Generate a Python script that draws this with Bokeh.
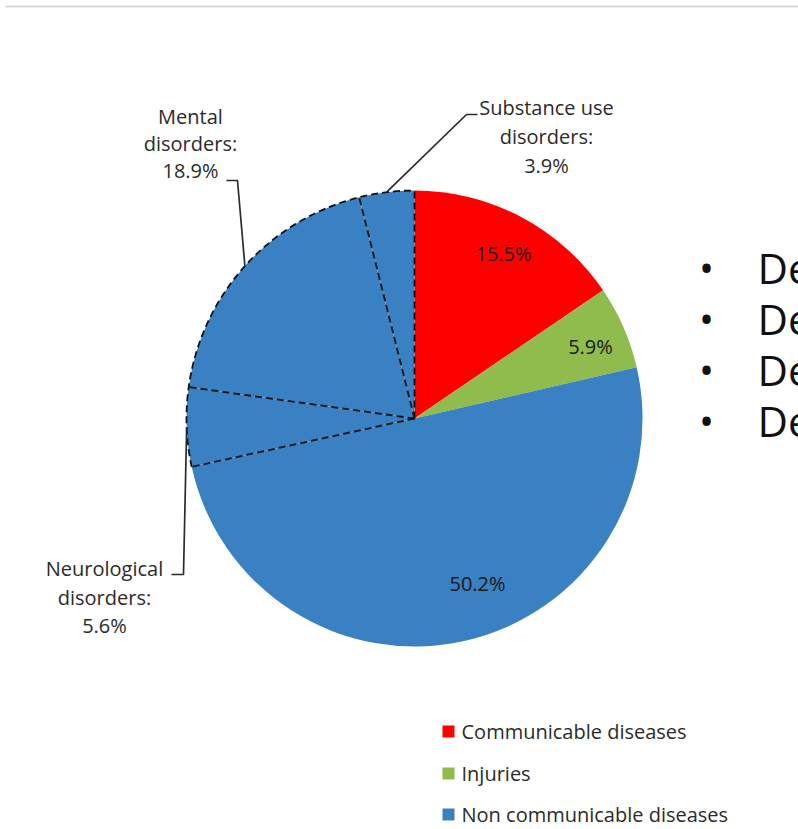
import math
from bokeh.plotting import figure
from bokeh.models import Range1d
from bokeh.core.properties import value
from bokeh.embed import file_html
from bokeh.resources import INLINE

# ---- data -------------------------------------------------------------
categories = ["Communicable diseases", "Injuries", "Non communicable diseases",
              "Neurological disorders", "Mental disorders", "Substance use disorders"]
shares = [15.5, 5.9, 50.2, 5.6, 18.9, 3.9]
slice_colors = ["#ff0000", "#8fbc4c", "#3a81c3", "#3a81c3", "#3a81c3", "#3a81c3"]

# slices that are labelled inside the pie
inner_names = ["Communicable diseases", "Injuries", "Non communicable diseases"]
# brain-disorder sub-slices, labelled outside with leader lines
outer_names = ["Neurological disorders", "Mental disorders", "Substance use disorders"]
outer_titles = [["Neurological", "disorders:"], ["Mental", "disorders:"],
                ["Substance use", "disorders:"]]

legend_names = ["Communicable diseases", "Injuries", "Non communicable diseases"]
legend_colors = ["#ff0000", "#8fbc4c", "#3a81c3"]

bullet_items = ["De", "De", "De", "De"]

# ---- layout -----------------------------------------------------------
W, H = 798, 829
CX, CY, R = 414, 418, 228          # pie centre / radius in page pixels
FONT = value("Open Sans")
LABEL_SIZE = "20px"


def Y(py):
    """page pixel row -> data y (data y grows upward)"""
    return H - py


def angle_of(frac_pct):
    """clockwise percentage from 12 o'clock -> bokeh angle (radians)"""
    return math.pi / 2 - 2 * math.pi * frac_pct / 100.0


def edge_point(frac_pct, r=R):
    a = angle_of(frac_pct)
    return CX + r * math.cos(a), Y(CY) + r * math.sin(a)


starts, ends = [], []
acc = 0.0
for s in shares:
    starts.append(acc)
    acc += s
    ends.append(acc)

p = figure(width=W, height=H, output_backend="svg", toolbar_location=None,
           x_range=Range1d(0, W), y_range=Range1d(0, H), min_border=0)
p.axis.visible = False
p.grid.visible = False
p.outline_line_color = None
p.background_fill_color = "white"
p.border_fill_color = "white"

# thin rule across the top of the page
p.segment(x0=[5], y0=[Y(6)], x1=[W], y1=[Y(6)], line_color="#cfcfcf", line_width=1.5)

# ---- pie slices ---------------------------------------------------------
p.wedge(x=[CX] * len(shares), y=[Y(CY)] * len(shares), radius=R,
        start_angle=[angle_of(s) for s in starts],
        end_angle=[angle_of(e) for e in ends],
        direction="clock", fill_color=slice_colors, line_color=None)

# dashed outline around the brain-disorder sub-slices
sub_idx = [categories.index(n) for n in outer_names]
first = starts[sub_idx[0]]
last = ends[sub_idx[-1]]
p.arc(x=CX, y=Y(CY), radius=R, start_angle=angle_of(first), end_angle=angle_of(last),
      direction="clock", line_color="#111111", line_width=1.8, line_dash="7 4")
bounds = [starts[i] for i in sub_idx] + [last]
x1s, y1s = [], []
for b in bounds:
    ex, ey = edge_point(b)
    x1s.append(ex)
    y1s.append(ey)
p.segment(x0=[CX] * len(bounds), y0=[Y(CY)] * len(bounds), x1=x1s, y1=y1s,
          line_color="#111111", line_width=1.8, line_dash="7 4")

# ---- inside labels --------------------------------------------------------
inner_pos = [(503, 253), (590, 346), (477, 583)]
for name, (px, py) in zip(inner_names, inner_pos):
    v = shares[categories.index(name)]
    p.text(x=[px], y=[Y(py)], text=[f"{v}%"], text_font=FONT, text_font_size=LABEL_SIZE,
           text_color="#1a1a1a", text_align="center", text_baseline="middle")

# ---- outside labels with leader lines ------------------------------------
label_centres = [(104, [568, 597, 625]), (190, [116, 143, 170]), (546, [107, 136, 165])]
leader_starts = [[(171, 574), (183, 574)], [(226, 180), (237, 180)],
                 [(477, 114), (466, 114)]]
for name, title, (lx, rows), lead in zip(outer_names, outer_titles, label_centres,
                                         leader_starts):
    i = categories.index(name)
    lines = title + [f"{shares[i]}%"]
    p.text(x=[lx] * 3, y=[Y(r) for r in rows], text=lines, text_font=FONT,
           text_font_size=LABEL_SIZE, text_color="#2b2b2b", text_align="center",
           text_baseline="middle")
    ex, ey = edge_point((starts[i] + ends[i]) / 2)
    xs = [pt[0] for pt in lead] + [ex]
    ys = [Y(pt[1]) for pt in lead] + [ey]
    p.line(x=xs, y=ys, line_color="#2b2b2b", line_width=1.7)

# ---- legend -------------------------------------------------------------
leg_rows = [731, 773, 814]
p.rect(x=[448] * 3, y=[Y(r) for r in leg_rows], width=12, height=12,
       fill_color=legend_colors, line_color=None)
p.text(x=[461] * 3, y=[Y(r) for r in leg_rows], text=legend_names, text_font=FONT,
       text_font_size=LABEL_SIZE, text_color="#2b2b2b", text_align="left",
       text_baseline="middle")

# ---- bullet list at the right edge -----------------------------------------
bullet_rows = [267, 318, 369, 420]
p.text(x=[706] * 4, y=[Y(r) for r in bullet_rows], text=["\u2022"] * 4, text_font=FONT,
       text_font_size="40px", text_color="#111111", text_align="center",
       text_baseline="middle")
p.text(x=[757] * 4, y=[Y(r) for r in bullet_rows], text=bullet_items, text_font=FONT,
       text_font_size="42px", text_color="#111111", text_align="left",
       text_baseline="middle")

open("out.html", "w").write(file_html(p, INLINE))
